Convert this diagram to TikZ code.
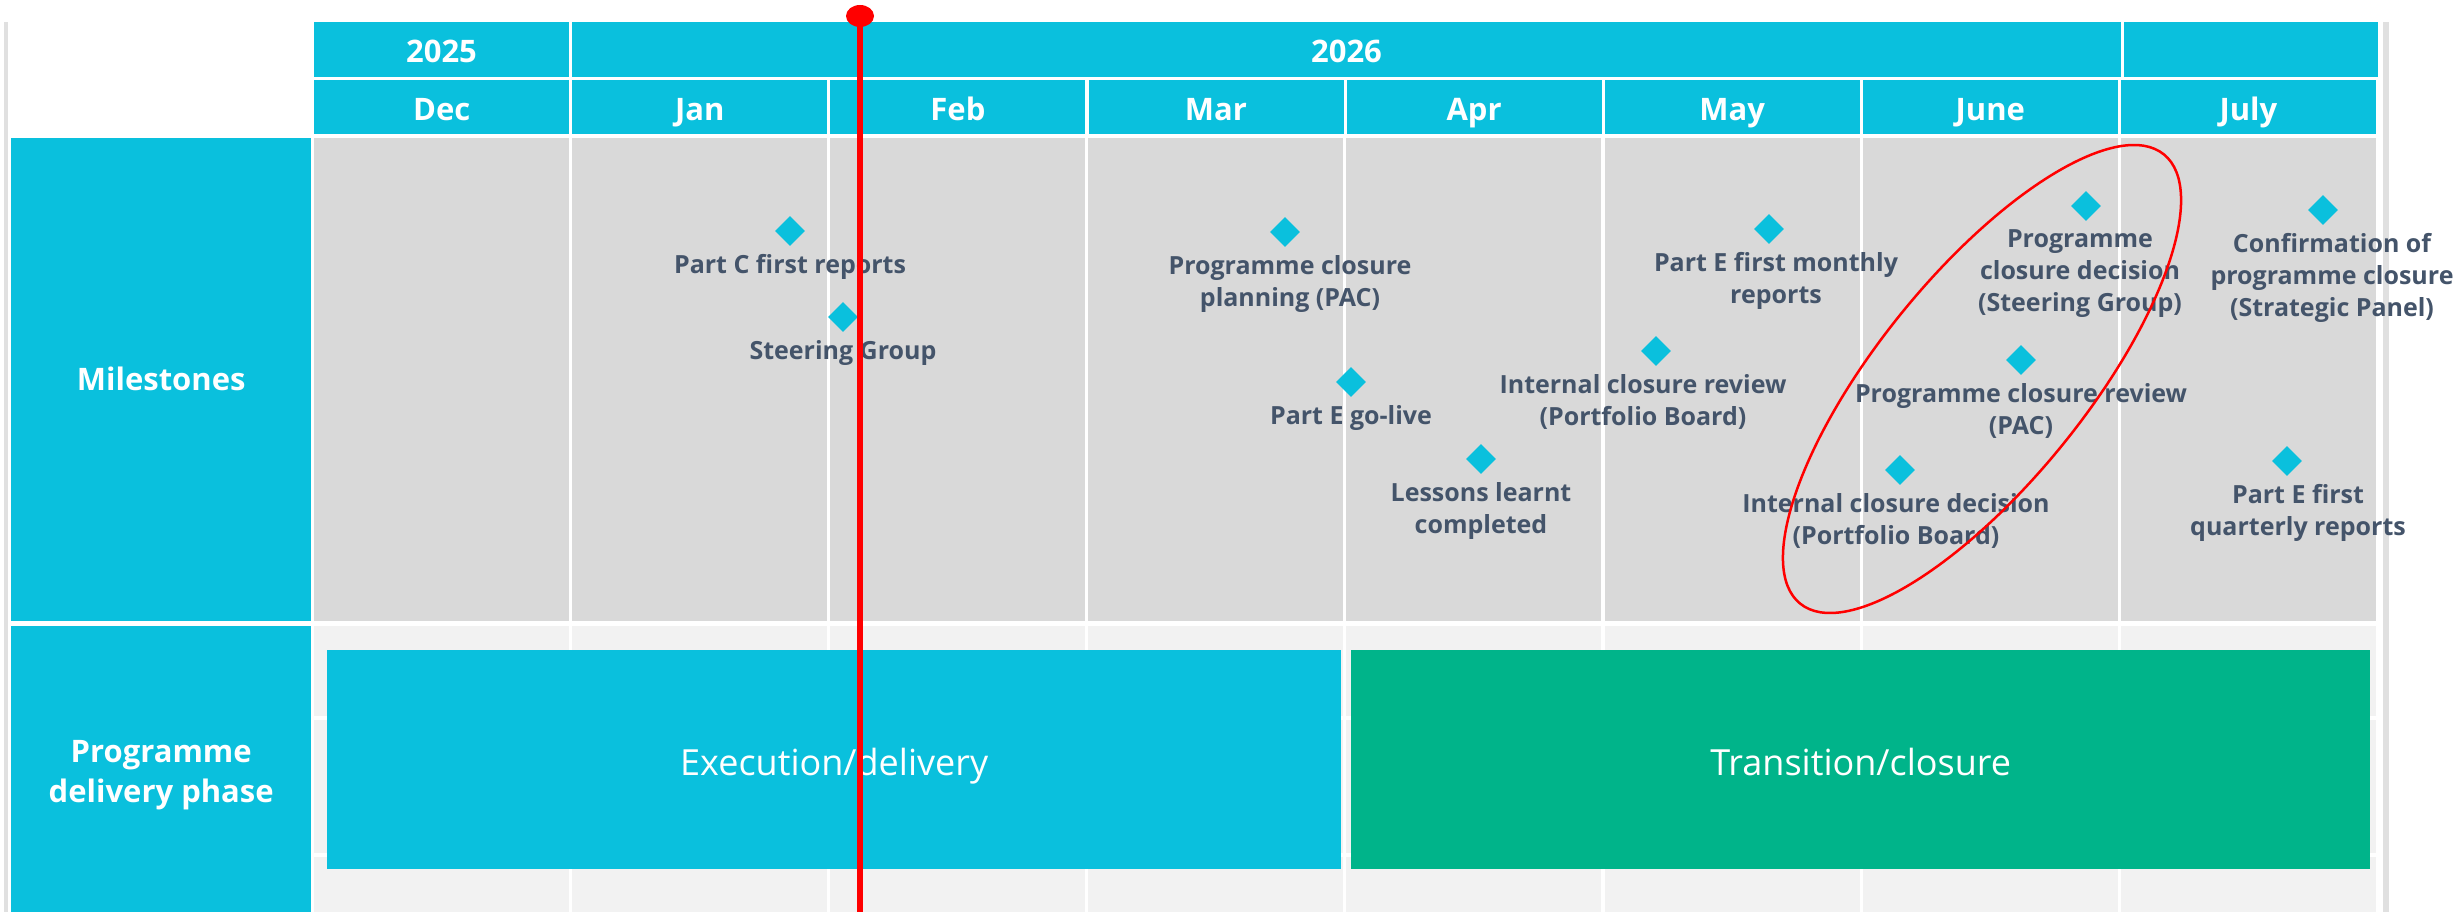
\documentclass[tikz,border=0pt]{standalone}
\usepackage{fontspec}
\setmainfont{Open Sans}
\usetikzlibrary{positioning, shapes.geometric}

\definecolor{tlcyan}{RGB}{10,192,221}
\definecolor{tlgreen}{RGB}{0,180,138}
\definecolor{tlgrey}{RGB}{217,217,217}
\definecolor{tllight}{RGB}{242,242,242}
\definecolor{tltext}{RGB}{68,84,106}

\begin{document}
\begin{tikzpicture}[x=1pt, y=-1pt,
    hdr/.style={fill=tlcyan, text=white, inner sep=0, text height=26pt, text depth=0pt, font=\fontsize{31}{36}\selectfont\bfseries},
    side/.style={fill=tlcyan, text=white, inner sep=0, anchor=north west, minimum width=300, font=\fontsize{31}{40}\selectfont\bfseries},
    phase/.style={text=white, inner sep=0, anchor=north west, minimum height=219, text height=31pt, text depth=0pt, font=\fontsize{36}{40}\selectfont},
    ms/.style={diamond, fill=tlcyan, minimum width=30, minimum height=30, inner sep=0},
    lab/.style={text=tltext, align=center, inner sep=0, font=\fontsize{25}{32}\selectfont\bfseries}]

    \useasboundingbox (0,0) rectangle (2463,912);
    % Cornice con ombra
    \fill[black!12] (4,22) rectangle (2389,912);
    \fill[white] (8,22) rectangle (2383,912);

    % Intestazione: anni
    \node[hdr, minimum width=255, minimum height=55] (a2025) at (441.5,49.5) {2025};
    \node[hdr, minimum width=1549, minimum height=55] (a2026) at (1346.5,49.5) {2026};
    \node[hdr, minimum width=254, minimum height=55] (a2026b) at (2251,49.5) {};

    % Mesi e colonne
    \foreach \m [count=\i from 0] in {Dec,Jan,Feb,Mar,Apr,May,June,July}{
        \pgfmathsetmacro{\xl}{314+258.1*\i}
        \node[hdr, anchor=north west, minimum width=255, minimum height=54] (mese\i) at (\xl,80) {\m};
        \fill[tlgrey] (\xl,138) rectangle ++(255,483);
        \fill[tllight] (\xl,626) rectangle ++(255,90);
        \fill[tllight] (\xl,720) rectangle ++(255,133);
        \fill[tllight] (\xl,857) rectangle ++(255,55);
    }

    % Etichette di riga
    \node[side, minimum height=483, text height=22pt, text depth=0pt] (lmil) at (11,138) {Milestones};
    \node[side, minimum height=286] (lfase) at (11,626) {};
    \node[text=white, align=center, inner sep=0, font=\fontsize{31}{40}\selectfont\bfseries] (tfase) at ([yshift=-6pt]lfase.center) {Programme\\delivery phase};

    % Fasi del programma
    \node[phase, fill=tlcyan, minimum width=1014] (exec) at (327,650) {Execution/delivery};
    \node[phase, fill=tlgreen, minimum width=1019] (trans) at (1351,650) {Transition/closure};

    % Milestone
    \node[ms] (m1) at (790,231) {};
    \node[lab, below=8pt of m1] (l1) {Part C first reports};
    \node[ms] (m2) at (843,317) {};
    \node[lab, below=8pt of m2] (l2) {Steering Group};
    \node[ms] (m3) at (1285,232) {};
    \node[lab, below=8pt of m3, xshift=5pt] (l3) {Programme closure\\planning (PAC)};
    \node[ms] (m4) at (1351,382) {};
    \node[lab, below=8pt of m4] (l4) {Part E go-live};
    \node[ms] (m5) at (1481,459) {};
    \node[lab, below=8pt of m5] (l5) {Lessons learnt\\completed};
    \node[ms] (m6) at (1656,351) {};
    \node[lab, below=8pt of m6, xshift=-13pt] (l6) {Internal closure review\\(Portfolio Board)};
    \node[ms] (m7) at (1769,229) {};
    \node[lab, below=8pt of m7, xshift=7pt] (l7) {Part E first monthly\\reports};
    \node[ms] (m8) at (2086,206) {};
    \node[lab, below=8pt of m8, xshift=-6pt] (l8) {Programme\\closure decision\\(Steering Group)};
    \node[ms] (m9) at (2021,360) {};
    \node[lab, below=8pt of m9] (l9) {Programme closure review\\(PAC)};
    \node[ms] (m10) at (1900,470) {};
    \node[lab, below=8pt of m10, xshift=-4pt] (l10) {Internal closure decision\\(Portfolio Board)};
    \node[ms] (m11) at (2323,210) {};
    \node[lab, below=8pt of m11, xshift=9pt] (l11) {Confirmation of\\programme closure\\(Strategic Panel)};
    \node[ms] (m12) at (2287,461) {};
    \node[lab, below=8pt of m12, xshift=11pt] (l12) {Part E first\\quarterly reports};

    % Linea di oggi
    \node[ellipse, fill=red, minimum width=28, minimum height=22, inner sep=0] (oggi) at (860,16) {};
    \coordinate (oggifine) at (860,912);
    \draw[red, line width=6] (oggi) -- (oggifine);

    % Evidenziazione decisioni di chiusura
    \draw[red, line width=2.5, rotate around={51:(1982,379)}] (1982,379) ellipse [x radius=289, y radius=104];
\end{tikzpicture}
\end{document}
